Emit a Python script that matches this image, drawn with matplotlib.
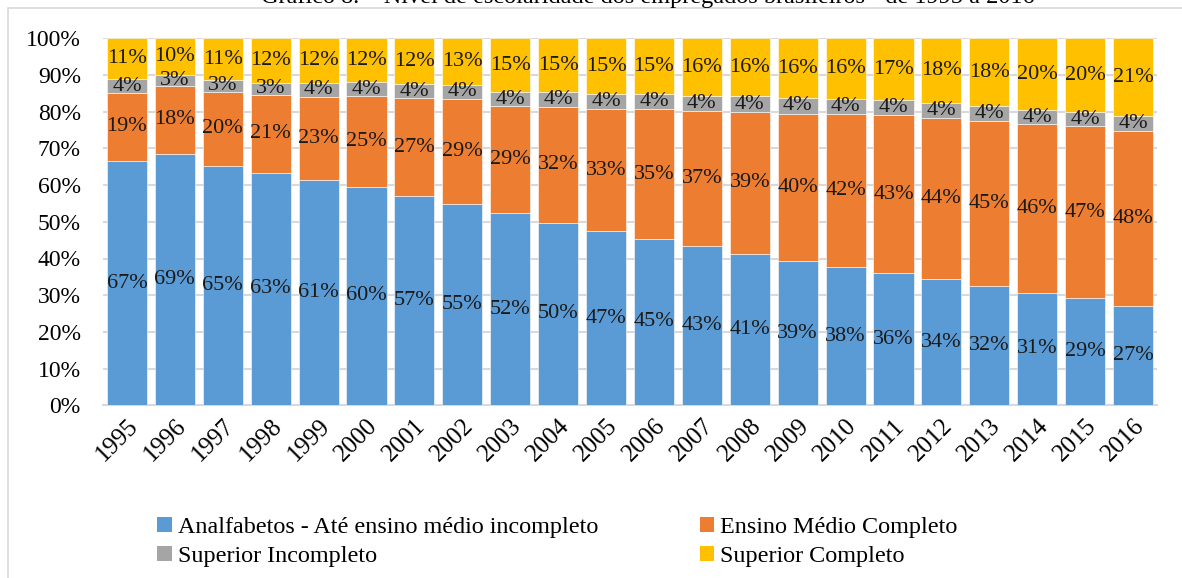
import numpy as np
import matplotlib
matplotlib.use("Agg")
import matplotlib.pyplot as plt
from matplotlib.patches import Rectangle, Patch

plt.rcParams["font.family"] = ["Liberation Serif", "DejaVu Serif"]

years = [str(y) for y in range(1995, 2017)]
# shares in % per year
analfabetos = [66.6, 68.6, 65.3, 63.4, 61.4, 59.6, 57.0, 54.8, 52.4, 49.8, 47.4,
               45.4, 43.4, 41.3, 39.4, 37.7, 36.0, 34.4, 32.4, 30.7, 29.2, 27.1]
medio_completo = [18.6, 18.3, 20.1, 21.1, 22.7, 24.6, 26.6, 28.6, 29.1, 31.6, 33.2,
                  35.2, 36.8, 38.6, 40.1, 41.8, 43.1, 43.9, 45.2, 45.9, 46.8, 47.6]
sup_incompleto = [3.6, 3.0, 3.3, 3.4, 3.7, 3.9, 4.0, 4.0, 3.9, 4.0, 4.2,
                  4.3, 4.1, 4.3, 4.3, 4.0, 4.1, 4.1, 4.0, 3.8, 3.8, 4.0]
sup_completo = [11.2, 10.1, 11.3, 12.1, 12.2, 11.9, 12.4, 12.6, 14.6, 14.6, 15.2,
                15.1, 15.7, 15.8, 16.2, 16.5, 16.8, 17.6, 18.4, 19.6, 20.2, 21.3]

series = [
    ("Analfabetos - Até ensino médio incompleto", analfabetos, "#5B9BD5"),
    ("Ensino Médio Completo", medio_completo, "#ED7D31"),
    ("Superior Incompleto", sup_incompleto, "#A5A5A5"),
    ("Superior Completo", sup_completo, "#FFC000"),
]

W, H = 1182, 578
fig = plt.figure(figsize=(W / 100, H / 100), dpi=100)

# chart frame (extends past the image on right and bottom)
fig.patches.append(Rectangle((8 / W, -0.1), 1.2, 1.1 - 8 / H, transform=fig.transFigure,
                             fill=False, edgecolor="#D9D9D9", linewidth=1.2))

# title is cut off by the top edge in the original
fig.text(648 / W, 1 - 3 / H, "Gráfico 8. – Nível de escolaridade dos empregados brasileiros - de 1995 a 2016",
         ha="center", va="baseline", fontsize=17.5)

ax = fig.add_axes([103 / W, (H - 405.3) / H, (1157 - 103) / W, (405.3 - 38.3) / H])

x = np.arange(len(years))
bottom = np.zeros(len(years))
for name, vals, col in series:
    v = np.array(vals) / 100
    ax.bar(x, v, 0.835, bottom=bottom, color=col, edgecolor="white", linewidth=0.4, label=name, zorder=3)
    for xi, b, h in zip(x, bottom, v):
        ax.text(xi, b + h / 2, f"{h * 100:.0f}%", ha="center", va="center", fontsize=16,
                color="#1a1a1a", zorder=4)
    bottom += v

ax.set_xlim(-0.5, len(years) - 0.5)
ax.set_ylim(0, 1)
ax.set_yticks(np.arange(0, 1.01, 0.1))
ax.set_yticklabels([f"{int(round(t * 100))}%" for t in np.arange(0, 1.01, 0.1)], fontsize=17)
ax.set_xticks(x)
ax.set_xticklabels(years, fontsize=18, rotation=45, ha="right", va="top", rotation_mode="anchor")
ax.tick_params(axis="both", length=0)
ax.tick_params(axis="y", pad=16)
ax.tick_params(axis="x", pad=7)
ax.yaxis.grid(True, color="#D9D9D9", linewidth=1.5, zorder=0)
ax.set_axisbelow(True)
for s in ["top", "right", "left"]:
    ax.spines[s].set_visible(False)
ax.spines["bottom"].set_color("#D9D9D9")
ax.spines["bottom"].set_linewidth(1.5)

handles = [Patch(facecolor=c, edgecolor="none", label=n) for n, _, c in series]
order = [0, 2, 1, 3]
fig.legend([handles[i] for i in order], [series[i][0] for i in order], ncol=2,
           loc="upper left", bbox_to_anchor=(145 / W, 1 - 505 / H), frameon=False,
           fontsize=17.4, handlelength=0.6, handleheight=0.6, handletextpad=0.25,
           columnspacing=4.2, labelspacing=0.3, borderpad=0)

fig.savefig("out.png", dpi=100)
